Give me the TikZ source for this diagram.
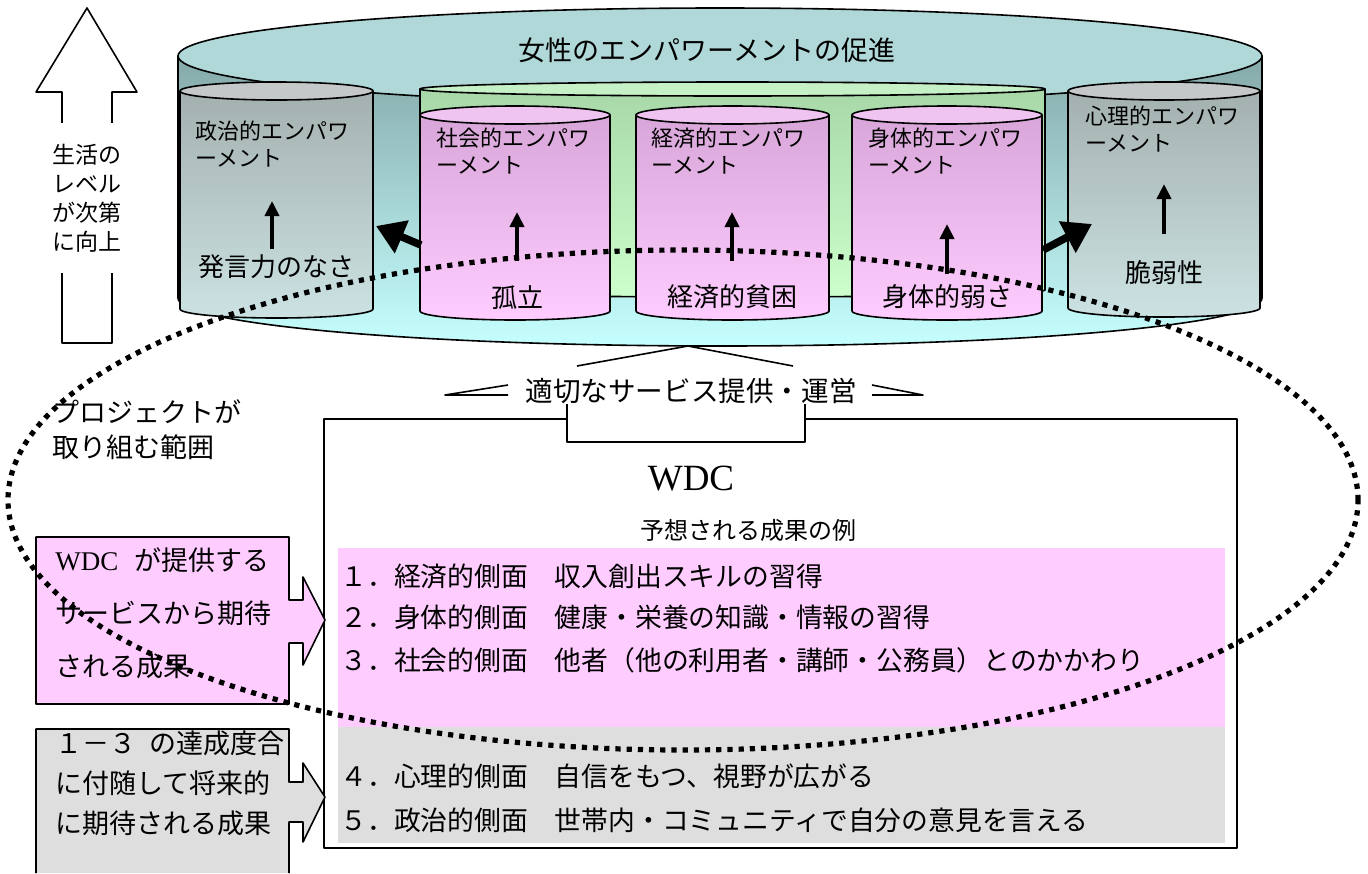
\documentclass[tikz,border=0pt]{standalone}
\usepackage{fontspec}
\setmainfont{Noto Sans CJK JP}
\newfontfamily\serifwdc{Liberation Serif}
\usetikzlibrary{arrows.meta}
\definecolor{bigtop}{HTML}{B0D8D8}
\definecolor{bigT}{HTML}{86A9A9}
\definecolor{bigB}{HTML}{C6FFFF}
\definecolor{grntop}{HTML}{C6F0C6}
\definecolor{grnT}{HTML}{A8D8A8}
\definecolor{grnB}{HTML}{CCFFCC}
\definecolor{pnktop}{HTML}{F0C4F0}
\definecolor{pnkT}{HTML}{D8A6D8}
\definecolor{pnkB}{HTML}{FFCCFF}
\definecolor{grytop}{HTML}{C4C8C8}
\definecolor{gryT}{HTML}{A4B0B0}
\definecolor{gryB}{HTML}{CCE2E2}
\definecolor{bandpink}{HTML}{FFCCFF}
\definecolor{bandgray}{HTML}{DEDEDE}
\newcommand\drawcyl[8]{%
\pgfmathsetmacro\cylcx{(#1+#2)/2}%
\pgfmathsetmacro\cylrx{(#2-#1)/4}%
\pgfmathsetmacro\cylry{#5/2}%
\path[outline, top color=#7, bottom color=#8] (#1,#3) -- (#1,#4) arc[start angle=180, end angle=360, x radius=\cylrx pt, y radius=\cylry pt] -- (#2,#3) -- cycle;
\path[outline, fill=#6] (\cylcx,#3) ellipse[x radius=\cylrx pt, y radius=\cylry pt];
}
\begin{document}
\begin{tikzpicture}[x=0.5pt,y=-0.5pt, line join=round,
  outline/.style={draw=black, line width=0.8pt},
  cyltext/.style={font=\fontsize{11}{13.5}\selectfont, align=left, inner sep=0pt, anchor=north west},
  cyllabel/.style={font=\fontsize{13}{15}\selectfont, inner sep=0pt},
  thinarrow/.style={line width=2pt, -{Triangle[length=7.5pt,width=7pt]}},
  thickarrow/.style={line width=3.8pt, -{Triangle[length=14pt,width=17pt]}},
  item/.style={font=\fontsize{13.4}{16}\selectfont, anchor=west, inner sep=0pt},
  dotline/.style={line width=2.6pt, dash pattern=on 2.6pt off 3pt}]
\useasboundingbox (0,0) rectangle (1368,873);

% left block arrow
\path[outline, fill=white] (62,343) -- (62,92) -- (36,92) -- (87,8) -- (137,92) -- (112,92) -- (112,343) -- cycle;
\node[font=\fontsize{11.5}{14.5}\selectfont, align=center, fill=white, minimum height=75pt, inner sep=0pt] (lvl) at (87,198) {生活の\\レベル\\が次第\\に向上};

% big cylinder
\drawcyl{178}{1262}{56}{298}{48}{bigtop}{bigT}{bigB}
\node[font=\fontsize{13.5}{16}\selectfont, inner sep=0pt] (title) at (707,50) {女性のエンパワーメントの促進};

% green back cylinder
\drawcyl{420}{1045}{89}{290}{7}{grntop}{grnT}{grnB}

% left and right gray cylinders
\drawcyl{180}{373}{91}{309}{9}{grytop}{gryT}{gryB}
\drawcyl{1068}{1260}{91}{308}{9}{grytop}{gryT}{gryB}

% pink cylinders
\drawcyl{420}{610}{115}{311}{9}{pnktop}{pnkT}{pnkB}
\drawcyl{636}{829}{115}{311}{9}{pnktop}{pnkT}{pnkB}
\drawcyl{852}{1042}{115}{311}{9}{pnktop}{pnkT}{pnkB}

% cylinder texts
\node[cyltext] (pol) at (195,121) {政治的エンパワ\\ーメント};
\node[cyltext] (soc) at (436,128) {社会的エンパワ\\ーメント};
\node[cyltext] (eco) at (651,128) {経済的エンパワ\\ーメント};
\node[cyltext] (phy) at (868,128) {身体的エンパワ\\ーメント};
\node[cyltext] (psy) at (1085,106) {心理的エンパワ\\ーメント};

\node[cyllabel] (polb) at (276,267) {発言力のなさ};
\node[cyllabel] (socb) at (517,298) {孤立};
\node[cyllabel] (ecob) at (732,297) {経済的貧困};
\node[cyllabel] (phyb) at (947,297) {身体的弱さ};
\node[cyllabel] (psyb) at (1164,273) {脆弱性};

% thin up arrows
\coordinate (a1s) at (272,249); \coordinate (a1e) at (272,201);
\coordinate (a2s) at (517,261); \coordinate (a2e) at (517,212);
\coordinate (a3s) at (732,261); \coordinate (a3e) at (732,212);
\coordinate (a4s) at (947,274); \coordinate (a4e) at (947,224);
\coordinate (a5s) at (1164,234); \coordinate (a5e) at (1164,184);
\draw[thinarrow] (a1s) -- (a1e);
\draw[thinarrow] (a2s) -- (a2e);
\draw[thinarrow] (a3s) -- (a3e);
\draw[thinarrow] (a4s) -- (a4e);
\draw[thinarrow] (a5s) -- (a5e);

% thick side arrows
\coordinate (tls) at (421,245); \coordinate (tle) at (376,226);
\coordinate (trs) at (1043,250); \coordinate (tre) at (1092,224);
\draw[thickarrow] (tls) -- (tle);
\draw[thickarrow] (trs) -- (tre);

% service label and connectors
\node[font=\fontsize{13.8}{16}\selectfont, inner sep=0pt] (svc) at (691,391) {適切なサービス提供・運営};
\coordinate (pk) at (688,346);
\draw[line width=0.8pt] (577,366) -- (pk) -- (793,366);
\draw[line width=0.8pt] (508,395) -- (445,395) -- (508,385);
\draw[line width=0.8pt] (872,385) -- (923,395) -- (872,395);

% WDC box
\path[fill=white] (324,419) rectangle (1237,848);
\fill[bandpink] (338,548) rectangle (1225,727);
\fill[bandgray] (338,727) rectangle (1225,843);
\draw[line width=0.8pt] (567,419) -- (324,419) -- (324,848) -- (1237,848) -- (1237,419) -- (805,419);
\draw[line width=0.8pt] (567,404) -- (567,442) -- (805,442) -- (805,404);

\node[font=\serifwdc\fontsize{18.5}{20}\selectfont, inner sep=0pt] (wdc) at (691,479) {WDC};
\node[font=\fontsize{12}{14}\selectfont, inner sep=0pt] (exp) at (748,530) {予想される成果の例};
\node[item] (i1) at (340,576) {１．経済的側面　収入創出スキルの習得};
\node[item] (i2) at (340,617) {２．身体的側面　健康・栄養の知識・情報の習得};
\node[item] (i3) at (340,660) {３．社会的側面　他者（他の利用者・講師・公務員）とのかかわり};
\node[item] (i4) at (340,776) {４．心理的側面　自信をもつ、視野が広がる};
\node[item] (i5) at (340,820) {５．政治的側面　世帯内・コミュニティで自分の意見を言える};

% left callouts
\path[outline, fill=bandpink] (36,537) -- (289,537) -- (289,600) -- (303,600) -- (303,577) -- (325,620) -- (303,665) -- (303,643) -- (289,643) -- (289,704) -- (36,704) -- cycle;
\node[font=\fontsize{13.5}{26.5}\selectfont, align=left, anchor=west, inner sep=0pt] (cp) at (55,613) {{\serifwdc WDC}\hspace{0.6em}が提供する\\サービスから期待\\される成果};

\fill[bandgray] (36,729) -- (289,729) -- (289,782) -- (303,782) -- (303,763) -- (325,797) -- (303,842) -- (303,822) -- (289,822) -- (289,873) -- (36,873) -- cycle;
\draw[line width=0.8pt] (36,873) -- (36,729) -- (289,729) -- (289,782) -- (303,782) -- (303,763) -- (325,797) -- (303,842) -- (303,822) -- (289,822) -- (289,873);
\node[font=\fontsize{13.5}{20}\selectfont, align=left, anchor=west, inner sep=0pt] (cg) at (55,783) {１－３\hspace{0.5em}の達成度合\\に付随して将来的\\に期待される成果};

% project scope label
\node[font=\fontsize{13.5}{17.5}\selectfont, align=left, anchor=west, inner sep=0pt] (scope) at (52,430) {プロジェクトが\\取り組む範囲};

% dotted scope ellipse
\draw[dotline] (683,500) ellipse[x radius=337.5pt, y radius=125pt];
\end{tikzpicture}
\end{document}
